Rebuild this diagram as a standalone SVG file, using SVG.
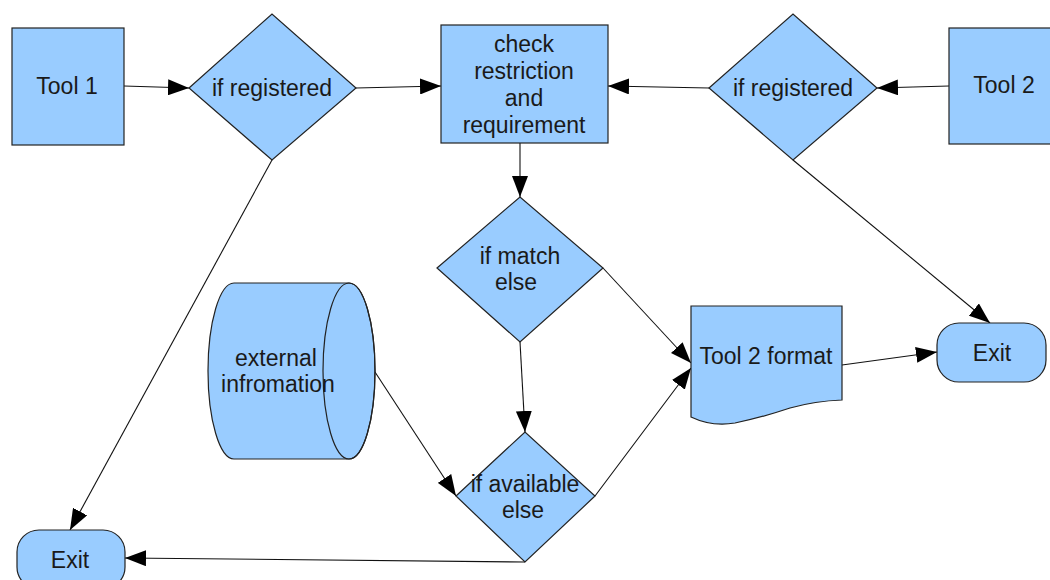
<svg xmlns="http://www.w3.org/2000/svg" width="1050" height="580" viewBox="0 0 1050 580">
<defs>
<style>
.shape{fill:#99ccff;stroke:#222;stroke-width:1.2}
.lbl{font-family:"Liberation Sans",Arial,sans-serif;font-size:23px;fill:#1a1a1a;text-anchor:middle}
.conn{fill:none;stroke:#111;stroke-width:1.1;marker-end:url(#arr)}
</style>
<marker id="arr" markerUnits="userSpaceOnUse" markerWidth="22" markerHeight="16" refX="21" refY="8" orient="auto">
<path d="M0,0 L21,8 L0,16 z" fill="#000"/>
</marker>
</defs>
<rect width="1050" height="580" fill="#fff"/>
<g id="connectors">
<path class="conn" d="M124,86 L189,88"/>
<path class="conn" d="M356,88 L441,86"/>
<path class="conn" d="M709,88 L608,86"/>
<path class="conn" d="M949,86 L877,88"/>
<path class="conn" d="M520,143 L520,197"/>
<path class="conn" d="M520,342 L525,432"/>
<path class="conn" d="M375,372 L456,496"/>
<path class="conn" d="M603,268 L691,363"/>
<path class="conn" d="M595,496 L691,368"/>
<path class="conn" d="M842,365 L937,352"/>
<path class="conn" d="M793,160 L990,323"/>
<path class="conn" d="M272,160 L70,530"/>
<path class="conn" d="M525,562 L125,558"/>
</g>
<g id="tool1">
<rect class="shape" x="12" y="28" width="112" height="117"/>
<text class="lbl" x="67" y="94">Tool 1</text>
</g>
<g id="registered1">
<polygon class="shape" points="189,88 272,14 356,88 272,160"/>
<text class="lbl" x="272" y="96">if registered</text>
</g>
<g id="check">
<rect class="shape" x="441" y="25" width="167" height="118"/>
<text class="lbl" x="524" y="52">check</text>
<text class="lbl" x="524" y="79">restriction</text>
<text class="lbl" x="524" y="106">and</text>
<text class="lbl" x="524" y="133">requirement</text>
</g>
<g id="registered2">
<polygon class="shape" points="709,88 793,14 877,88 793,160"/>
<text class="lbl" x="793" y="96">if registered</text>
</g>
<g id="tool2">
<rect class="shape" x="949" y="28" width="112" height="116"/>
<text class="lbl" x="1004" y="93">Tool 2</text>
</g>
<g id="match">
<polygon class="shape" points="437,268 520,197 603,268 520,342"/>
<text class="lbl" x="520" y="264">if match</text>
<text class="lbl" x="516" y="290">else</text>
</g>
<g id="external">
<path class="shape" d="M234,283 L349,283 A26,88 0 0 1 349,459 L234,459 A26,88 0 0 1 234,283 Z"/>
<ellipse cx="349" cy="371" rx="26" ry="88" fill="none" stroke="#222" stroke-width="1.2"/>
<text class="lbl" x="276" y="366">external</text>
<text class="lbl" x="278" y="392">infromation</text>
</g>
<g id="available">
<polygon class="shape" points="456,496 525,432 595,496 525,562"/>
<text class="lbl" x="525" y="492">if available</text>
<text class="lbl" x="523" y="518">else</text>
</g>
<g id="format">
<path class="shape" d="M691,306 L842,306 L842,400 Q815,401 790,408 Q760,418 735,423 Q712,427 691,417 Z"/>
<text class="lbl" x="766" y="364">Tool 2 format</text>
</g>
<g id="exit1">
<rect class="shape" x="937" y="323" width="109" height="59" rx="22" ry="22"/>
<text class="lbl" x="992" y="361">Exit</text>
</g>
<g id="exit2">
<rect class="shape" x="17" y="530" width="108" height="59" rx="22" ry="22"/>
<text class="lbl" x="70" y="568">Exit</text>
</g>
</svg>
